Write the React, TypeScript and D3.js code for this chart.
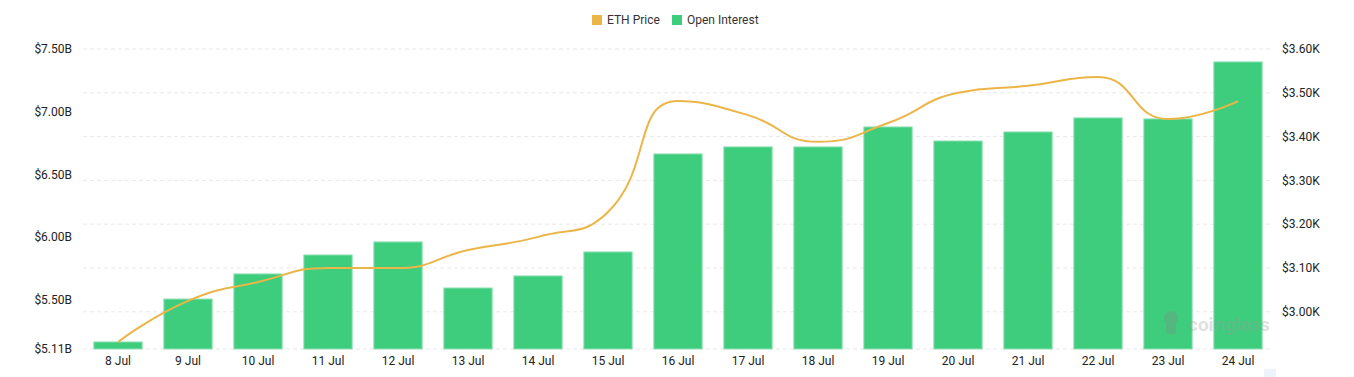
import React from "react";
import * as d3 from "d3";

const categories = ["8 Jul","9 Jul","10 Jul","11 Jul","12 Jul","13 Jul","14 Jul","15 Jul","16 Jul","17 Jul","18 Jul","19 Jul","20 Jul","21 Jul","22 Jul","23 Jul","24 Jul"];
const openInterest = [5.166,5.508,5.708,5.859,5.963,5.596,5.692,5.883,6.664,6.72,6.72,6.879,6.767,6.839,6.951,6.943,7.397];
const ethPrice = [2.931,3.025,3.068,3.1,3.1,3.141,3.171,3.228,3.481,3.449,3.388,3.431,3.5,3.516,3.536,3.44,3.481];
const leftTicks = [5.11,5.5,6.0,6.5,7.0,7.5];
const rightTicks = [3.0,3.1,3.2,3.3,3.4,3.5,3.6];

const W = 1354, H = 377;
const X0 = 83, X1 = 1273, YT = 49, YB = 349;
const GREEN = "#3ecd7d";
const ORANGE = "#ebb548";
const FONT = "Roboto, 'Noto Sans', sans-serif";

// ECharts-style smooth bezier (control points clamped, no overshoot)
function smoothPath(pts: [number, number][], smooth = 0.5): string {
  const p = d3.path();
  const n = pts.length;
  let cpx0 = 0, cpy0 = 0, prevX = 0, prevY = 0;
  for (let k = 0; k < n; k++) {
    const [x, y] = pts[k];
    if (k === 0) {
      p.moveTo(x, y);
      cpx0 = x; cpy0 = y;
    } else {
      let cpx1: number, cpy1: number, nextCpx0: number, nextCpy0: number;
      if (k === n - 1) {
        cpx1 = x; cpy1 = y; nextCpx0 = x; nextCpy0 = y;
      } else {
        const [nextX, nextY] = pts[k + 1];
        let vx = nextX - prevX, vy = nextY - prevY;
        const dx0 = x - prevX, dy0 = y - prevY, dx1 = nextX - x, dy1 = nextY - y;
        const lenPrev = Math.sqrt(dx0 * dx0 + dy0 * dy0);
        const lenNext = Math.sqrt(dx1 * dx1 + dy1 * dy1);
        const ratio = lenNext / (lenNext + lenPrev);
        nextCpx0 = x + vx * smooth * ratio;
        nextCpy0 = y + vy * smooth * ratio;
        nextCpx0 = Math.min(nextCpx0, Math.max(nextX, x));
        nextCpy0 = Math.min(nextCpy0, Math.max(nextY, y));
        nextCpx0 = Math.max(nextCpx0, Math.min(nextX, x));
        nextCpy0 = Math.max(nextCpy0, Math.min(nextY, y));
        vx = nextCpx0 - x; vy = nextCpy0 - y;
        cpx1 = x - vx * lenPrev / lenNext;
        cpy1 = y - vy * lenPrev / lenNext;
        cpx1 = Math.min(cpx1, Math.max(prevX, x));
        cpy1 = Math.min(cpy1, Math.max(prevY, y));
        cpx1 = Math.max(cpx1, Math.min(prevX, x));
        cpy1 = Math.max(cpy1, Math.min(prevY, y));
        vx = x - cpx1; vy = y - cpy1;
        nextCpx0 = x + vx * lenNext / lenPrev;
        nextCpy0 = y + vy * lenNext / lenPrev;
      }
      p.bezierCurveTo(cpx0, cpy0, cpx1, cpy1, x, y);
      cpx0 = nextCpx0; cpy0 = nextCpy0;
    }
    prevX = x; prevY = y;
  }
  return p.toString();
}

export default function App() {
  const x = d3.scaleBand().domain(categories).range([X0, X1]).paddingInner(0.31).paddingOuter(0.155);
  const yL = d3.scaleLinear().domain([5.11, 7.5]).range([YB, YT]);
  const yR = d3.scaleLinear().domain([3.6 - (YB - YT) / 438, 3.6]).range([YB, YT]);
  const cx = (c: string) => (x(c) as number) + x.bandwidth() / 2;
  const linePts: [number, number][] = ethPrice.map((v, i) => [cx(categories[i]), yR(v)]);
  return (
    <svg width={W} height={H} style={{ position: "absolute", left: 0, top: 0, background: "#fff" }}>
      {rightTicks.map((t) => (
        <line key={"g" + t} x1={X0} x2={X1} y1={yR(t)} y2={yR(t)} stroke="#e9e9e9" strokeDasharray="4,3" />
      ))}
      <line x1={X0} x2={X1} y1={YB} y2={YB} stroke="#e9e9e9" strokeDasharray="4,3" />
      {leftTicks.map((t) => (
        <text key={"l" + t} x={72} y={yL(t)} dy="0.35em" textAnchor="end" fontSize={12} fontFamily={FONT} fill="#222">
          {"$" + t.toFixed(2) + "B"}
        </text>
      ))}
      {rightTicks.map((t) => (
        <text key={"r" + t} x={1282} y={yR(t)} dy="0.35em" textAnchor="start" fontSize={12} fontFamily={FONT} fill="#222">
          {"$" + t.toFixed(2) + "K"}
        </text>
      ))}
      {categories.map((c) => (
        <text key={"x" + c} x={cx(c)} y={361} dy="0.35em" textAnchor="middle" fontSize={12} fontFamily={FONT} fill="#222">
          {c}
        </text>
      ))}
      {openInterest.map((v, i) => (
        <rect key={"b" + i} x={x(categories[i]) as number} y={yL(v)} width={x.bandwidth()} height={YB - yL(v)}
          fill={GREEN} stroke="#8fe0b4" strokeWidth={1} />
      ))}
      <g opacity={0.3}>
        <circle cx={1171} cy={318} r={7} fill="#888" />
        <rect x={1166} y={322} width={10} height={12} rx={3} fill="#888" />
        <text x={1188} y={324} dy="0.35em" fontSize={19} fontWeight={700} fontFamily={FONT} fill="#999">coinglass</text>
      </g>
      <path d={smoothPath(linePts)} fill="none" stroke={ORANGE} strokeWidth={2} />
      <rect x={592} y={15} width={10} height={10} fill={ORANGE} />
      <text x={607} y={20} dy="0.35em" fontSize={12} fontFamily={FONT} fill="#333">ETH Price</text>
      <rect x={672} y={15} width={10} height={10} fill={GREEN} />
      <text x={687} y={20} dy="0.35em" fontSize={12} fontFamily={FONT} fill="#333">Open Interest</text>
      <rect x={1264} y={369} width={12} height={8} fill="#eef2fc" />
    </svg>
  );
}
